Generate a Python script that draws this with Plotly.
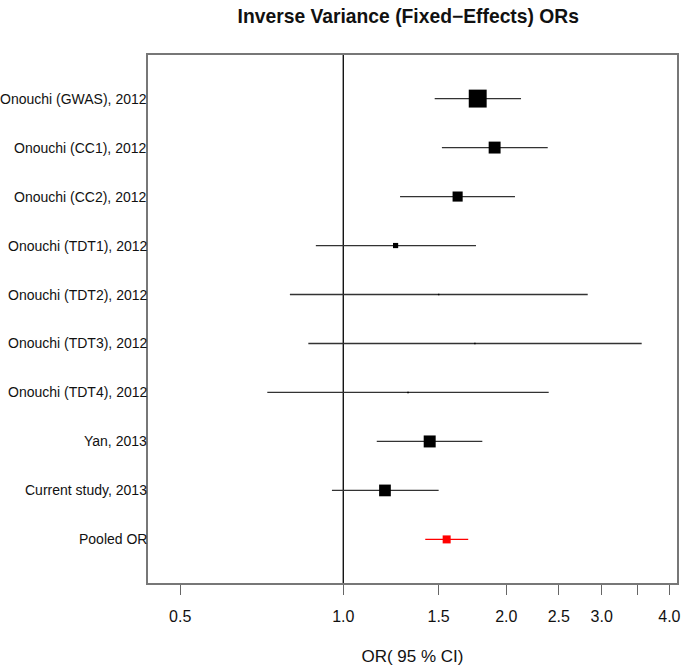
import math
import plotly.graph_objects as go

# ---- data ----
studies = [
    "Onouchi (GWAS), 2012",
    "Onouchi (CC1), 2012",
    "Onouchi (CC2), 2012",
    "Onouchi (TDT1), 2012",
    "Onouchi (TDT2), 2012",
    "Onouchi (TDT3), 2012",
    "Onouchi (TDT4), 2012",
    "Yan, 2013",
    "Current study, 2013",
]
odds_ratio = [1.771, 1.903, 1.626, 1.249, 1.500, 1.750, 1.317, 1.444, 1.194]
ci_lower = [1.475, 1.521, 1.273, 0.890, 0.797, 0.862, 0.724, 1.153, 0.953]
ci_upper = [2.129, 2.385, 2.075, 1.758, 2.827, 3.556, 2.395, 1.806, 1.500]

pooled_label = "Pooled OR"
pooled_or = 1.552
pooled_lower = 1.417
pooled_upper = 1.701

null_or = 1.0
tick_values = [0.5, 1.0, 1.5, 2.0, 2.5, 3.0, 3.5, 4.0]
tick_labels = ["0.5", "1.0", "1.5", "2.0", "2.5", "3.0", "", "4.0"]

title_text = "Inverse Variance (Fixed\u2212Effects) ORs"
xaxis_title = "OR( 95 % CI)"

# ---- derived ----
n = len(studies)
rows = list(range(1, n + 1))
pooled_row = n + 1
all_labels = studies + [pooled_label]
all_rows = rows + [pooled_row]

# inverse-variance weights -> box size proportional to weight
weights = []
for lo, hi in zip(ci_lower, ci_upper):
    se = (math.log(hi) - math.log(lo)) / (2 * 1.959964)
    weights.append(1.0 / se ** 2)
box_scale = 0.157
box_sizes = [max(w * box_scale, 1.5) for w in weights]

FONT = "Liberation Sans, Arial, Helvetica, sans-serif"

fig = go.Figure()

# reference line at OR = 1
y_lo, y_hi = 0.11, pooled_row + 0.89
fig.add_trace(go.Scatter(
    x=[null_or, null_or], y=[y_lo, y_hi], mode="lines",
    line=dict(color="black", width=1.3), hoverinfo="skip", showlegend=False,
))

# studies
fig.add_trace(go.Scatter(
    x=odds_ratio, y=rows, mode="markers",
    marker=dict(symbol="square", size=box_sizes, color="black", opacity=1,
                line=dict(width=0)),
    error_x=dict(
        type="data", symmetric=False,
        array=[u - o for u, o in zip(ci_upper, odds_ratio)],
        arrayminus=[o - l for o, l in zip(odds_ratio, ci_lower)],
        color="#333333", thickness=1.3, width=0,
    ),
    showlegend=False,
))

# pooled
fig.add_trace(go.Scatter(
    x=[pooled_or], y=[pooled_row], mode="markers",
    marker=dict(symbol="square", size=8, color="red", opacity=1, line=dict(width=0)),
    error_x=dict(
        type="data", symmetric=False,
        array=[pooled_upper - pooled_or],
        arrayminus=[pooled_or - pooled_lower],
        color="red", thickness=1.3, width=0,
    ),
    showlegend=False,
))

# study labels on the left
for lab, r in zip(all_labels, all_rows):
    fig.add_annotation(
        x=0, xref="paper", y=r, yref="y", text=lab, showarrow=False,
        xanchor="right", yanchor="middle", xshift=1,
        font=dict(family=FONT, size=14, color="#111111"),
    )

fig.update_layout(
    width=685, height=669,
    margin=dict(l=148, r=8, t=55, b=86, autoexpand=False),
    paper_bgcolor="white", plot_bgcolor="white",
    title=dict(
        text="<b>" + title_text + "</b>", x=0.492, xref="paper", xanchor="center",
        y=1 - 16 / 669, yref="container", yanchor="middle",
        font=dict(family=FONT, size=19.3, color="#111111"),
    ),
    font=dict(family=FONT, color="#111111"),
)

fig.update_xaxes(
    type="log",
    range=[math.log10(0.436), math.log10(4.132)],
    tickvals=tick_values, ticktext=tick_labels,
    ticks="outside", ticklen=10, tickwidth=1.3, tickcolor="#666666",
    tickfont=dict(family=FONT, size=16, color="#111111"),
    ticklabelstandoff=8,
    showgrid=False, zeroline=False,
    showline=True, mirror=True, linecolor="#777777", linewidth=1.5,
    title=dict(text=xaxis_title, font=dict(family=FONT, size=17, color="#111111"), standoff=26),
)

fig.update_yaxes(
    range=[y_hi, y_lo],
    showticklabels=False, ticks="",
    showgrid=False, zeroline=False,
    showline=True, mirror=True, linecolor="#777777", linewidth=1.5,
)

fig.write_html(
    "out.html",
    config={"displayModeBar": False},
    post_script="document.body.style.margin='0px';",
)
